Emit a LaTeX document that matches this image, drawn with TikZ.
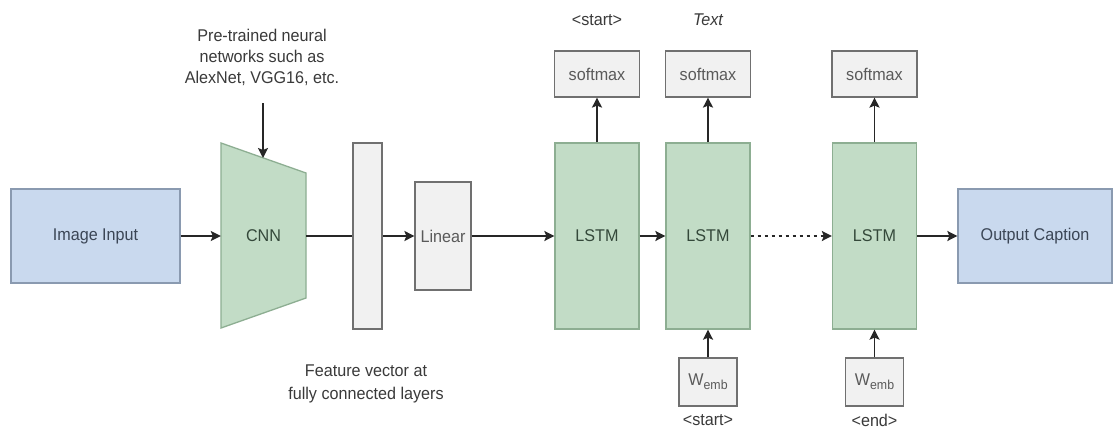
\documentclass[tikz,border=0pt]{standalone}
\usepackage{fontspec}
\setmainfont[FakeStretch=0.95]{Liberation Sans}
\usetikzlibrary{arrows.meta}
\definecolor{bluefill}{HTML}{C9D9EE}
\definecolor{blueline}{HTML}{8A9AB0}
\definecolor{greenfill}{HTML}{C2DCC6}
\definecolor{greenline}{HTML}{8DAE92}
\definecolor{greyfill}{HTML}{F1F1F1}
\definecolor{greyline}{HTML}{707070}
\definecolor{bluetext}{HTML}{3B4656}
\definecolor{greentext}{HTML}{34483A}
\definecolor{greytext}{HTML}{5A5A5A}
\definecolor{plaintext}{HTML}{3A3A3A}
\tikzset{
  base/.style={inner sep=0pt, font=\fontsize{17}{21}\selectfont},
  bluebox/.style={base, draw=blueline, fill=bluefill, line width=1.3pt, text=bluetext},
  greenbox/.style={base, draw=greenline, fill=greenfill, line width=1.3pt, text=greentext},
  greybox/.style={base, draw=greyline, fill=greyfill, line width=1.2pt, text=greytext},
  plain/.style={base, text=plaintext, align=center},
  arr/.style={line width=1.8pt, draw=black!85, -{Stealth[length=10pt,width=10pt,inset=2pt]}},
  link/.style={line width=1.8pt, draw=black!85},
  dotarr/.style={arr, dash pattern=on 3.5pt off 3.5pt}
}
\begin{document}
\begin{tikzpicture}[x=1pt,y=-1pt]
\useasboundingbox (0,0) rectangle (1116,428);
\fill[white] (0,0) rectangle (1116,428);

% input and output
\node[bluebox, minimum width=169pt, minimum height=94pt] (img) at (95.5,236) {Image Input};
\node[bluebox, minimum width=154pt, minimum height=94pt] (out) at (1035,236) {Output Caption};

% CNN trapezoid
\draw[greenline, fill=greenfill, line width=1.3pt] (221,143) -- (306,173) -- (306,298) -- (221,328) -- cycle;
\node[base, text=greentext, minimum width=85pt, minimum height=185pt] (cnn) at (263.5,236) {CNN};
\coordinate (cnntop) at (263,158);

% feature vector bar and linear
\node[greybox, minimum width=29pt, minimum height=186pt] (bar) at (367.5,236) {};
\node[greybox, minimum width=56pt, minimum height=108pt] (lin) at (443,236) {Linear};

% LSTMs
\node[greenbox, minimum width=84pt, minimum height=186pt] (l1) at (597,236) {LSTM};
\node[greenbox, minimum width=84pt, minimum height=186pt] (l2) at (708,236) {LSTM};
\node[greenbox, minimum width=84pt, minimum height=186pt] (l3) at (874.5,236) {LSTM};

% softmax
\node[greybox, minimum width=85pt, minimum height=46pt] (s1) at (597,74) {softmax};
\node[greybox, minimum width=85pt, minimum height=46pt] (s2) at (708,74) {softmax};
\node[greybox, minimum width=85pt, minimum height=46pt] (s3) at (874.5,74) {softmax};

% embeddings
\node[greybox, minimum width=58pt, minimum height=48pt] (w1) at (708,382) {W\raisebox{-4pt}{\fontsize{13}{13}\selectfont emb}};
\node[greybox, minimum width=58pt, minimum height=48pt] (w2) at (874.5,382) {W\raisebox{-4pt}{\fontsize{13}{13}\selectfont emb}};

% labels
\node[plain] (pre) at (262,57) {Pre-trained neural\\networks such as\\AlexNet, VGG16, etc.};
\node[plain, font=\fontsize{17}{23}\selectfont] (feat) at (366,383.5) {Feature vector at\\fully connected layers};
\node[plain] (tstart) at (597,20) {<start>};
\node[plain, font=\fontsize{17}{21}\selectfont\itshape] (ttext) at (708,20) {Text};
\node[plain] (bstart) at (708,420) {<start>};
\node[plain] (bend) at (874.5,420) {<end>};

% connectors
\coordinate (pretip) at (263,103);
\draw[arr] (img.east) -- (cnn.west);
\draw[arr] (pretip) -- (cnntop);
\draw[link] (cnn.east) -- (bar.west);
\draw[arr] (bar.east) -- (lin.west);
\draw[arr] (lin.east) -- (l1.west);
\draw[arr] (l1.east) -- (l2.west);
\draw[dotarr] (l2.east) -- (l3.west);
\draw[arr] (l3.east) -- (out.west);
\draw[arr] (l1.north) -- (s1.south);
\draw[arr] (l2.north) -- (s2.south);
\draw[arr] (l3.north) -- (s3.south);
\draw[arr] (w1.north) -- (l2.south);
\draw[arr] (w2.north) -- (l3.south);
\end{tikzpicture}
\end{document}
